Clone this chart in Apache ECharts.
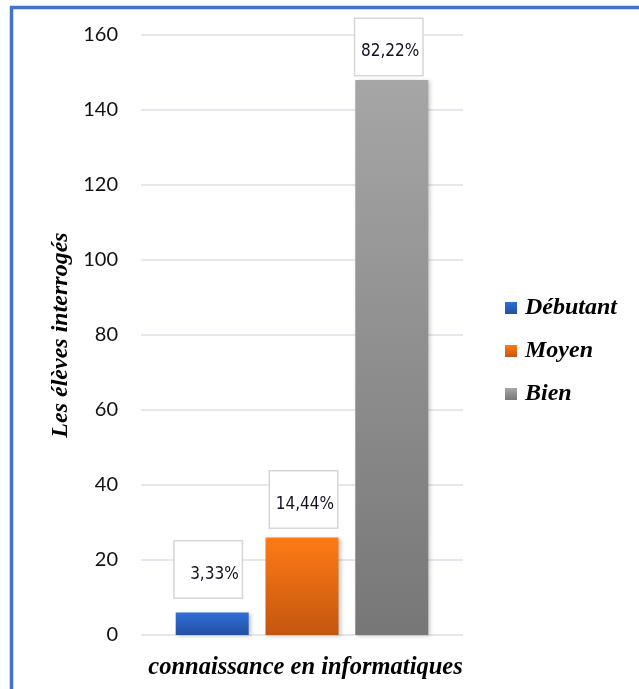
<!DOCTYPE html>
<html>
<head>
<meta charset="utf-8">
<style>
  html, body { margin: 0; padding: 0; background: #ffffff; }
  #chart { width: 639px; height: 689px; }
</style>
<script src="https://cdn.jsdelivr.net/npm/echarts@6/dist/echarts.min.js"></script>
</head>
<body>
<div id="chart"></div>
<script>
// Survey data: pupils' level of computer knowledge
const categories = ['connaissance en informatiques'];
const levels = ['Débutant', 'Moyen', 'Bien'];
const counts = [6, 26, 148];
const yAxisMin = 0;
const yAxisMax = 160;
const yAxisStep = 20;

const total = counts.reduce((a, b) => a + b, 0);
const pct = v => (v / total * 100).toFixed(2).replace('.', ',') + '%';

// bar fills (top → bottom gradient)
const fills = [
  ['#2f6fd8', '#2350a2'],
  ['#ff7b16', '#c3560f'],
  ['#a6a6a6', '#777777']
];
// per-bar label box placement: [distance above bar, horizontal shift]
const labelPlace = [[15, -4], [10, 1.5], [5, -3]];

const serifBI = { fontFamily: 'Liberation Serif', fontWeight: 'bold', fontStyle: 'italic', fontSize: 24, color: '#000000' };
const boxW = 67;

const series = levels.map((name, i) => ({
  name: name,
  type: 'bar',
  data: [counts[i]],
  barWidth: 73,
  barGap: '23%',
  itemStyle: {
    color: new echarts.graphic.LinearGradient(0, 0, 0, 1, [
      { offset: 0, color: fills[i][0] },
      { offset: 1, color: fills[i][1] }
    ]),
    shadowBlur: 4,
    shadowColor: 'rgba(0,0,0,0.22)',
    shadowOffsetX: 2,
    shadowOffsetY: 1
  },
  label: {
    show: true,
    position: 'top',
    distance: labelPlace[i][0],
    offset: [boxW / 2 + labelPlace[i][1], 0],
    formatter: p => pct(p.value),
    align: 'right',
    width: boxW - 6,
    padding: [22, 3, 12, 3],
    lineHeight: 22,
    fontFamily: 'Liberation Sans Narrow, DejaVu Sans Condensed, sans-serif',
    fontSize: 17,
    color: '#111122',
    backgroundColor: '#ffffff',
    borderColor: '#d6d6d6',
    borderWidth: 1.5
  }
}));

const chart = echarts.init(document.getElementById('chart'), null, { renderer: 'canvas' });
chart.setOption({
  animation: false,
  backgroundColor: '#ffffff',
  grid: { left: 141, right: 176, top: 35, bottom: 54, containLabel: false },
  legend: {
    orient: 'vertical',
    left: 505,
    top: 296,
    padding: 0,
    itemWidth: 12,
    itemHeight: 12,
    itemGap: 19,
    icon: 'rect',
    textStyle: Object.assign({ padding: [0, 0, 0, 3] }, serifBI),
    data: levels
  },
  xAxis: {
    type: 'category',
    data: categories,
    axisLine: { show: false },
    axisTick: { show: false },
    axisLabel: Object.assign({ margin: 20 }, serifBI, { fontSize: 24.5, padding: [0, 0, 0, 7] })
  },
  yAxis: {
    type: 'value',
    min: yAxisMin,
    max: yAxisMax,
    interval: yAxisStep,
    name: 'Les élèves interrogés',
    nameLocation: 'middle',
    nameRotate: 90,
    nameGap: 66,
    nameTextStyle: serifBI,
    axisLine: { show: false },
    axisTick: { show: false },
    axisLabel: { margin: 23, fontFamily: 'Lato, Open Sans, sans-serif', fontSize: 20, color: '#111111' },
    splitLine: { lineStyle: { color: '#dbe0e6', width: 1.5 } }
  },
  series: series,
  graphic: [
    { type: 'line', silent: true, shape: { x1: 10, y1: 7.5, x2: 639, y2: 7.5 }, style: { stroke: '#4472c4', lineWidth: 3.5 } },
    { type: 'line', silent: true, shape: { x1: 11.5, y1: 6, x2: 11.5, y2: 689 }, style: { stroke: '#4472c4', lineWidth: 3.5 } }
  ]
});
</script>
</body>
</html>
